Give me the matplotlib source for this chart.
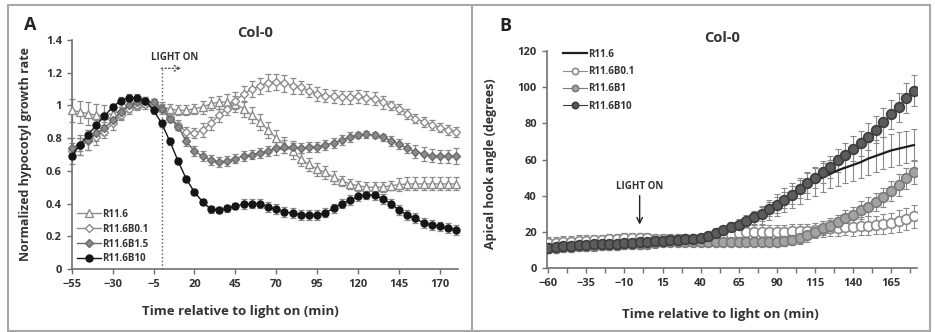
import matplotlib.pyplot as plt
from matplotlib.patches import Rectangle
from matplotlib.lines import Line2D

plt.rcParams['font.family'] = ['Open Sans', 'DejaVu Sans']
plt.rcParams['font.weight'] = 'bold'
plt.rcParams['axes.labelweight'] = 'bold'

TEXT = "#333333"
AXIS = "#707070"
ERR = "#8a8a8a"

# ---------------- panel A: hypocotyl growth rate ----------------
TIME_A = list(range(-55, 185, 5))

A_R116 = [0.97, 0.96, 0.95, 0.94, 0.94, 0.95, 0.97, 1.00, 1.01, 1.02, 1.01, 0.99,
          0.98, 0.97, 0.97, 0.98, 0.99, 1.01, 1.02, 1.02, 1.01, 0.98, 0.94, 0.90,
          0.85, 0.80, 0.76, 0.72, 0.67, 0.64, 0.61, 0.59, 0.56, 0.54, 0.52, 0.51,
          0.50, 0.50, 0.50, 0.51, 0.515, 0.52, 0.52, 0.52, 0.52, 0.52, 0.52, 0.52]
A_B01 = [0.72, 0.75, 0.78, 0.81, 0.84, 0.89, 0.94, 0.98, 1.00, 1.01, 1.01, 0.98,
         0.93, 0.88, 0.84, 0.83, 0.85, 0.89, 0.94, 0.98, 1.03, 1.07, 1.10, 1.12,
         1.14, 1.145, 1.135, 1.12, 1.11, 1.09, 1.07, 1.06, 1.055, 1.05, 1.05, 1.055,
         1.047, 1.04, 1.02, 1.00, 0.98, 0.95, 0.92, 0.90, 0.88, 0.865, 0.85, 0.84]
A_B15 = [0.74, 0.76, 0.79, 0.83, 0.86, 0.91, 0.96, 1.00, 1.02, 1.03, 1.02, 0.98,
         0.92, 0.87, 0.78, 0.72, 0.69, 0.665, 0.655, 0.66, 0.675, 0.69, 0.70, 0.71,
         0.72, 0.738, 0.748, 0.744, 0.738, 0.744, 0.748, 0.758, 0.772, 0.788, 0.805, 0.82,
         0.823, 0.82, 0.805, 0.785, 0.762, 0.738, 0.717, 0.703, 0.693, 0.69, 0.69, 0.69]
A_B10 = [0.69, 0.76, 0.82, 0.88, 0.935, 0.99, 1.03, 1.047, 1.047, 1.03, 0.97, 0.89,
         0.78, 0.66, 0.55, 0.47, 0.41, 0.365, 0.36, 0.37, 0.385, 0.395, 0.40, 0.40,
         0.38, 0.365, 0.35, 0.34, 0.33, 0.33, 0.33, 0.345, 0.37, 0.40, 0.42, 0.445,
         0.455, 0.45, 0.43, 0.40, 0.36, 0.33, 0.31, 0.28, 0.27, 0.26, 0.25, 0.24]

A_R116_ERR = [0.07, 0.07, 0.07, 0.07, 0.06, 0.06, 0.05, 0.04, 0.03, 0.03, 0.03, 0.03,
              0.03, 0.03, 0.03, 0.03, 0.04, 0.04, 0.04, 0.05, 0.05, 0.05, 0.05, 0.05,
              0.05, 0.05, 0.05, 0.05, 0.04, 0.04, 0.04, 0.04, 0.04, 0.03, 0.03, 0.03,
              0.03, 0.03, 0.03, 0.03, 0.04, 0.04, 0.04, 0.04, 0.04, 0.04, 0.04, 0.04]
A_B01_ERR = [0.05, 0.05, 0.05, 0.05, 0.04, 0.04, 0.03, 0.03, 0.03, 0.03, 0.03, 0.03,
             0.03, 0.03, 0.03, 0.03, 0.04, 0.04, 0.04, 0.04, 0.05, 0.05, 0.05, 0.05,
             0.05, 0.05, 0.05, 0.05, 0.04, 0.04, 0.04, 0.04, 0.04, 0.04, 0.04, 0.04,
             0.04, 0.04, 0.04, 0.03, 0.03, 0.03, 0.03, 0.03, 0.03, 0.03, 0.03, 0.03]
A_B15_ERR = [0.06, 0.06, 0.06, 0.05, 0.04, 0.03, 0.03, 0.02, 0.02, 0.02, 0.02, 0.02,
             0.02, 0.02, 0.03, 0.03, 0.03, 0.03, 0.03, 0.03, 0.03, 0.03, 0.03, 0.03,
             0.03, 0.04, 0.04, 0.04, 0.03, 0.03, 0.03, 0.03, 0.03, 0.03, 0.03, 0.02,
             0.02, 0.02, 0.02, 0.03, 0.03, 0.03, 0.04, 0.04, 0.04, 0.04, 0.04, 0.05]
A_B10_ERR = [0.05, 0.04, 0.03, 0.03, 0.02, 0.02, 0.02, 0.02, 0.02, 0.02, 0.02, 0.02,
             0.02, 0.02, 0.02, 0.02, 0.02, 0.02, 0.02, 0.02, 0.02, 0.03, 0.03, 0.03,
             0.03, 0.03, 0.03, 0.03, 0.03, 0.03, 0.03, 0.03, 0.03, 0.03, 0.03, 0.03,
             0.03, 0.03, 0.03, 0.03, 0.03, 0.03, 0.03, 0.03, 0.03, 0.03, 0.03, 0.03]

XTICKS_A = [-55, -30, -5, 20, 45, 70, 95, 120, 145, 170]
YTICKS_A = [0, 0.2, 0.4, 0.6, 0.8, 1.0, 1.2, 1.4]
YLABELS_A = ["0", "0.2", "0.4", "0.6", "0.8", "1", "1.2", "1.4"]
LEGEND_A = ["R11.6", "R11.6B0.1", "R11.6B1.5", "R11.6B10"]

# ---------------- panel B: apical hook angle ----------------
TIME_B = list(range(-60, 185, 5))

B_R116 = [12, 12, 12.5, 12.5, 13, 13, 13.5, 13.5, 14, 14, 14.5, 14.5,
          15, 15, 15, 15.5, 15.5, 16, 16, 16.5, 16.5, 17.5, 18.5, 19,
          19.5, 20.5, 23.5, 26.5, 29.5, 32, 35, 37.5, 40, 42.5, 45.5, 48,
          50, 52, 54, 55.5, 57, 58.5, 60.5, 62, 63.5, 65, 66, 67, 68]
B_B01 = [14, 14, 14.5, 14.5, 15, 15, 15.5, 15.5, 16, 16, 16.5, 16.5,
         16.5, 16.5, 16, 16, 16, 16, 16, 16, 16, 16.5, 17, 18,
         19, 19.5, 20, 20, 20, 20, 20, 20, 20.5, 20.5, 20.5, 21,
         21.5, 22, 22, 22.5, 22.5, 23, 23.5, 24, 24.5, 25, 26, 27, 28.5]
B_B1 = [11, 11, 11.5, 11.5, 12, 12, 12, 12.5, 12.5, 12.5, 13, 13,
        13, 13.5, 14, 14.5, 14.5, 14.5, 14.5, 14.5, 14.5, 14.5, 14.5, 14.5,
        14.5, 14.5, 14.5, 14.5, 14.5, 14.5, 14.5, 15, 15.5, 16.5, 18, 20,
        22, 23.5, 25.5, 27.5, 29.5, 32, 34, 36.5, 39, 42.5, 46, 49.5, 53]
B_B10 = [11, 11.5, 12, 12, 12.5, 12.5, 13, 13, 13.5, 13.5, 14, 14,
         14.5, 14.5, 15, 15, 15.5, 15.5, 16, 16, 16.5, 17.5, 19.5, 21,
         22.5, 24, 26, 28, 30, 32.5, 35, 37.5, 40.5, 43.5, 47, 50,
         53, 56, 59.5, 62.5, 66, 69, 72.5, 76.5, 80.5, 85, 89, 94, 98]

B_R116_ERR = [2, 2, 2, 2, 2, 2, 2, 2, 2, 2, 2, 2,
              2, 2, 2, 2, 2, 2, 2, 2, 2, 2.5, 2.5, 3,
              3, 3.5, 4, 4.5, 5, 5.5, 6, 6.5, 7, 7, 7.5, 8,
              8, 8, 8.5, 8.5, 9, 9, 9, 9, 9, 9, 9, 9, 9]
B_B01_ERR = [3, 3, 3, 3, 3, 3, 3, 3, 3, 3, 3, 3,
             3, 3, 3, 3, 3, 3, 3, 3, 3, 3, 3.5, 3.5,
             4, 4, 4, 4, 4, 4, 4, 4, 4, 4, 4, 4,
             4.5, 4.5, 4.5, 4.5, 5, 5, 5, 5, 5.5, 5.5, 6, 6, 6.5]
B_B1_ERR = [2.5, 2.5, 2.5, 2.5, 2.5, 2.5, 2.5, 2.5, 2.5, 2.5, 2.5, 2.5,
            2.5, 2.5, 2.5, 2.5, 2.5, 2.5, 2.5, 2.5, 2.5, 2.5, 2.5, 2.5,
            2.5, 2.5, 2.5, 2.5, 2.5, 2.5, 2.5, 3, 3, 3, 3.5, 3.5,
            4, 4, 4, 4.5, 4.5, 5, 5, 5, 5.5, 5.5, 6, 6, 6.5]
B_B10_ERR = [2, 2, 2, 2, 2, 2, 2, 2, 2, 2, 2, 2,
             2, 2, 2, 2, 2, 2, 2, 2, 2, 2, 2.5, 2.5,
             3, 3, 3.5, 3.5, 4, 4, 4.5, 4.5, 5, 5, 5.5, 5.5,
             6, 6, 6.5, 6.5, 7, 7, 7.5, 7.5, 8, 8, 8, 8.5, 8.5]

XTICKS_B = [-60, -35, -10, 15, 40, 65, 90, 115, 140, 165]
XMINOR_B = [-47.5, -22.5, 2.5, 27.5, 52.5, 77.5, 102.5, 127.5, 152.5, 177.5]
YTICKS_B = [0, 20, 40, 60, 80, 100, 120]
LEGEND_B = ["R11.6", "R11.6B0.1", "R11.6B1", "R11.6B10"]


def style_axes(ax):
    ax.set_facecolor("white")
    for side in ["top", "right"]:
        ax.spines[side].set_visible(False)
    for side in ["left", "bottom"]:
        ax.spines[side].set_color(AXIS)
        ax.spines[side].set_linewidth(1.2)
    ax.tick_params(axis="both", colors=AXIS, labelcolor=TEXT, labelsize=8,
                   direction="out", length=3.5, width=1)


W, H = 935, 332
fig = plt.figure(figsize=(W / 100, H / 100), dpi=100, facecolor="white")

# ---------------- panel A ----------------
ax_a = fig.add_axes([71.7 / W, 1 - 269 / H, (458 - 71.7) / W, 229 / H])
style_axes(ax_a)

series_a = [
    (A_R116, A_R116_ERR, dict(marker="^", mfc="white", mec="#8c8c8c", color="#8c8c8c", ms=5.5)),
    (A_B01, A_B01_ERR, dict(marker="D", mfc="white", mec="#8c8c8c", color="#8c8c8c", ms=4.5)),
    (A_B15, A_B15_ERR, dict(marker="D", mfc="#8a8a8a", mec="#6a6a6a", color="#6a6a6a", ms=4.5)),
    (A_B10, A_B10_ERR, dict(marker="o", mfc="#151515", mec="#151515", color="#151515", ms=5)),
]
for (vals, err, st), lab in zip(series_a, LEGEND_A):
    ax_a.errorbar(TIME_A, vals, yerr=err, fmt="none", ecolor=ERR, elinewidth=0.9,
                  capsize=2, capthick=0.9, zorder=2, clip_on=False)
    ax_a.plot(TIME_A, vals, lw=1, mew=1, label=lab, zorder=3, clip_on=False, **st)

ax_a.set_xlim(-55, 181)
ax_a.set_ylim(0, 1.4)
ax_a.set_xticks(XTICKS_A)
ax_a.set_yticks(YTICKS_A)
ax_a.set_yticklabels(YLABELS_A)

# light on marker
ax_a.plot([0, 0], [0, 1.227], ls=":", color="#555555", lw=1, zorder=1)
ax_a.annotate("", xy=(12, 1.227), xytext=(-0.3, 1.227),
              arrowprops=dict(arrowstyle="->", ls=":", color="#555555", lw=1,
                              shrinkA=0, shrinkB=0))
ax_a.text(8, 1.294, "LIGHT ON", ha="center", va="center", fontsize=7, color=TEXT)

ax_a.set_ylabel("Normalized hypocotyl growth rate", fontsize=9, color=TEXT)
ax_a.yaxis.set_label_coords(-0.103, 0.5)
ax_a.set_xlabel("Time relative to light on (min)", fontsize=9.5, color=TEXT)
ax_a.xaxis.set_label_coords(0.436, -0.157)

ax_a.legend(loc="lower left", bbox_to_anchor=(0.015, 0.02), frameon=False,
            fontsize=7, handlelength=2.4, handletextpad=0.1, labelspacing=0.4,
            borderpad=0, borderaxespad=0, labelcolor=TEXT)

# ---------------- panel B ----------------
ax_b = fig.add_axes([546.7 / W, 1 - 268 / H, (917 - 546.7) / W, 217 / H])
style_axes(ax_b)

series_b = [
    (B_B01, B_B01_ERR, dict(marker="o", mfc="white", mec="#8c8c8c", color="#8c8c8c", ms=7, mew=1.2)),
    (B_B1, B_B1_ERR, dict(marker="o", mfc="#a3a3a3", mec="#7a7a7a", color="#7a7a7a", ms=7, mew=1.2)),
    (B_B10, B_B10_ERR, dict(marker="o", mfc="#5c5c5c", mec="#3c3c3c", color="#3c3c3c", ms=7, mew=1.2)),
]
for vals, err, st in series_b:
    ax_b.errorbar(TIME_B, vals, yerr=err, fmt="none", ecolor=ERR, elinewidth=0.8,
                  capsize=2, capthick=0.8, zorder=2)
ax_b.errorbar(TIME_B, B_R116, yerr=B_R116_ERR, fmt="none", ecolor=ERR, elinewidth=0.8,
              capsize=2, capthick=0.8, zorder=2)
ax_b.plot(TIME_B, B_R116, color="#1e1e1e", lw=1.6, zorder=2.5)
for vals, err, st in series_b:
    ax_b.plot(TIME_B, vals, lw=0.8, zorder=3, **st)

ax_b.set_xlim(-61, 182)
ax_b.set_ylim(0, 120)
ax_b.set_xticks(XTICKS_B)
ax_b.set_xticks(XMINOR_B, minor=True)
ax_b.tick_params(axis="x", which="minor", colors=AXIS, direction="out", length=3.5, width=1)
ax_b.set_yticks(YTICKS_B)

ax_b.text(0, 44.8, "LIGHT ON", ha="center", va="center", fontsize=7, color=TEXT)
ax_b.annotate("", xy=(0, 24), xytext=(0, 40),
              arrowprops=dict(arrowstyle="->", color="#222222", lw=1,
                              shrinkA=0, shrinkB=0))

ax_b.set_ylabel("Apical hook angle (degrees)", fontsize=9, color=TEXT)
ax_b.yaxis.set_label_coords(-0.134, 0.48)
ax_b.set_xlabel("Time relative to light on (min)", fontsize=9.5, color=TEXT)
ax_b.xaxis.set_label_coords(0.468, -0.184)

handles_b = [
    Line2D([], [], color="#1e1e1e", lw=1.6),
    Line2D([], [], lw=0.8, **series_b[0][2]),
    Line2D([], [], lw=0.8, **series_b[1][2]),
    Line2D([], [], lw=0.8, **series_b[2][2]),
]
for h in handles_b[1:]:
    h.set_markersize(4.5)
ax_b.legend(handles_b, LEGEND_B, loc="upper left", bbox_to_anchor=(0.045, 1.01),
            frameon=False, fontsize=7, handlelength=2.4, handletextpad=0.1,
            labelspacing=0.65, borderpad=0, borderaxespad=0, labelcolor=TEXT)

# ---------------- titles, panel letters, frame ----------------
fig.text(255 / W, 1 - 33 / H, "Col-0", ha="center", va="center", fontsize=10.5, color=TEXT)
fig.text(722 / W, 1 - 38 / H, "Col-0", ha="center", va="center", fontsize=10.5, color=TEXT)
fig.text(30 / W, 1 - 25 / H, "A", ha="center", va="center", fontsize=13, color="#222222")
fig.text(505 / W, 1 - 26 / H, "B", ha="center", va="center", fontsize=13, color="#222222")

fig.add_artist(Rectangle((8 / W, 1 / H), (930 - 8) / W, (327 - 1) / H,
                         transform=fig.transFigure, fill=False, ec="#a8a8a8", lw=1.5))
fig.add_artist(Line2D([472 / W, 472 / W], [0, 1 - 5 / H], transform=fig.transFigure,
                      color="#a8a8a8", lw=1.5))

fig.savefig("out.png", dpi=100, facecolor="white")
